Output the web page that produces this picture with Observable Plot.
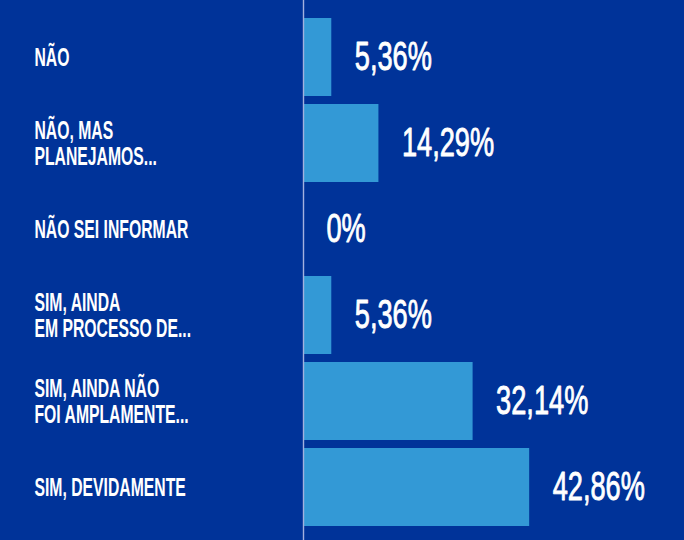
<!DOCTYPE html>
<html><head><meta charset="utf-8">
<script src="https://cdn.jsdelivr.net/npm/d3@7"></script>
<script src="https://cdn.jsdelivr.net/npm/@observablehq/plot@0.6"></script>
<style>
html,body{margin:0;padding:0;background:#003399;overflow:hidden;}
</style></head><body><div id="chart"></div>
<script>
const categories = ["NÃO", "NÃO, MAS\nPLANEJAMOS...", "NÃO SEI INFORMAR", "SIM, AINDA\nEM PROCESSO DE...", "SIM, AINDA NÃO\nFOI AMPLAMENTE...", "SIM, DEVIDAMENTE"];
const values = [5.36, 14.29, 0, 5.36, 32.14, 42.86];
const valueLabels = ["5,36%", "14,29%", "0%", "5,36%", "32,14%", "42,86%"];
const data = categories.map((c, i) => ({category: c, value: values[i], label: valueLabels[i]}));

const chart = Plot.plot({
  width: 684, height: 540,
  marginTop: 0, marginBottom: 0, marginLeft: 303, marginRight: 0,
  style: {background: "#003399", fontFamily: "'Liberation Sans', sans-serif"},
  x: {domain: [0, 72.2], axis: null},
  y: {domain: categories, range: [14, 530], paddingInner: 0.093, paddingOuter: 0.0465, axis: null},
  marks: [
    Plot.barX(data, {x: "value", y: "category", fill: "#3399d6", insetLeft: 1}),
    Plot.ruleX([0], {stroke: "#a3b1de", strokeWidth: 1.4}),
    Plot.text(data, {x: "value", y: "category", text: "label", textAnchor: "start", dx: 23, fill: "white", stroke: "white", strokeWidth: 0.9, fontSize: 40}),
    Plot.text(data, {y: "category", text: "category", frameAnchor: "left", textAnchor: "start", dx: -269, fill: "white", fontSize: 25, fontWeight: "bold", lineHeight: 1.04})
  ]
});
const groups = chart.querySelectorAll('g[aria-label="text"]');
const scales = [0.68, 0.63];
groups.forEach((g, k) => {
  g.querySelectorAll("text").forEach(t => {
    t.setAttribute("transform", (t.getAttribute("transform") || "") + ` scale(${scales[k]},1)`);
  });
});
document.getElementById("chart").appendChild(chart);
</script></body></html>
